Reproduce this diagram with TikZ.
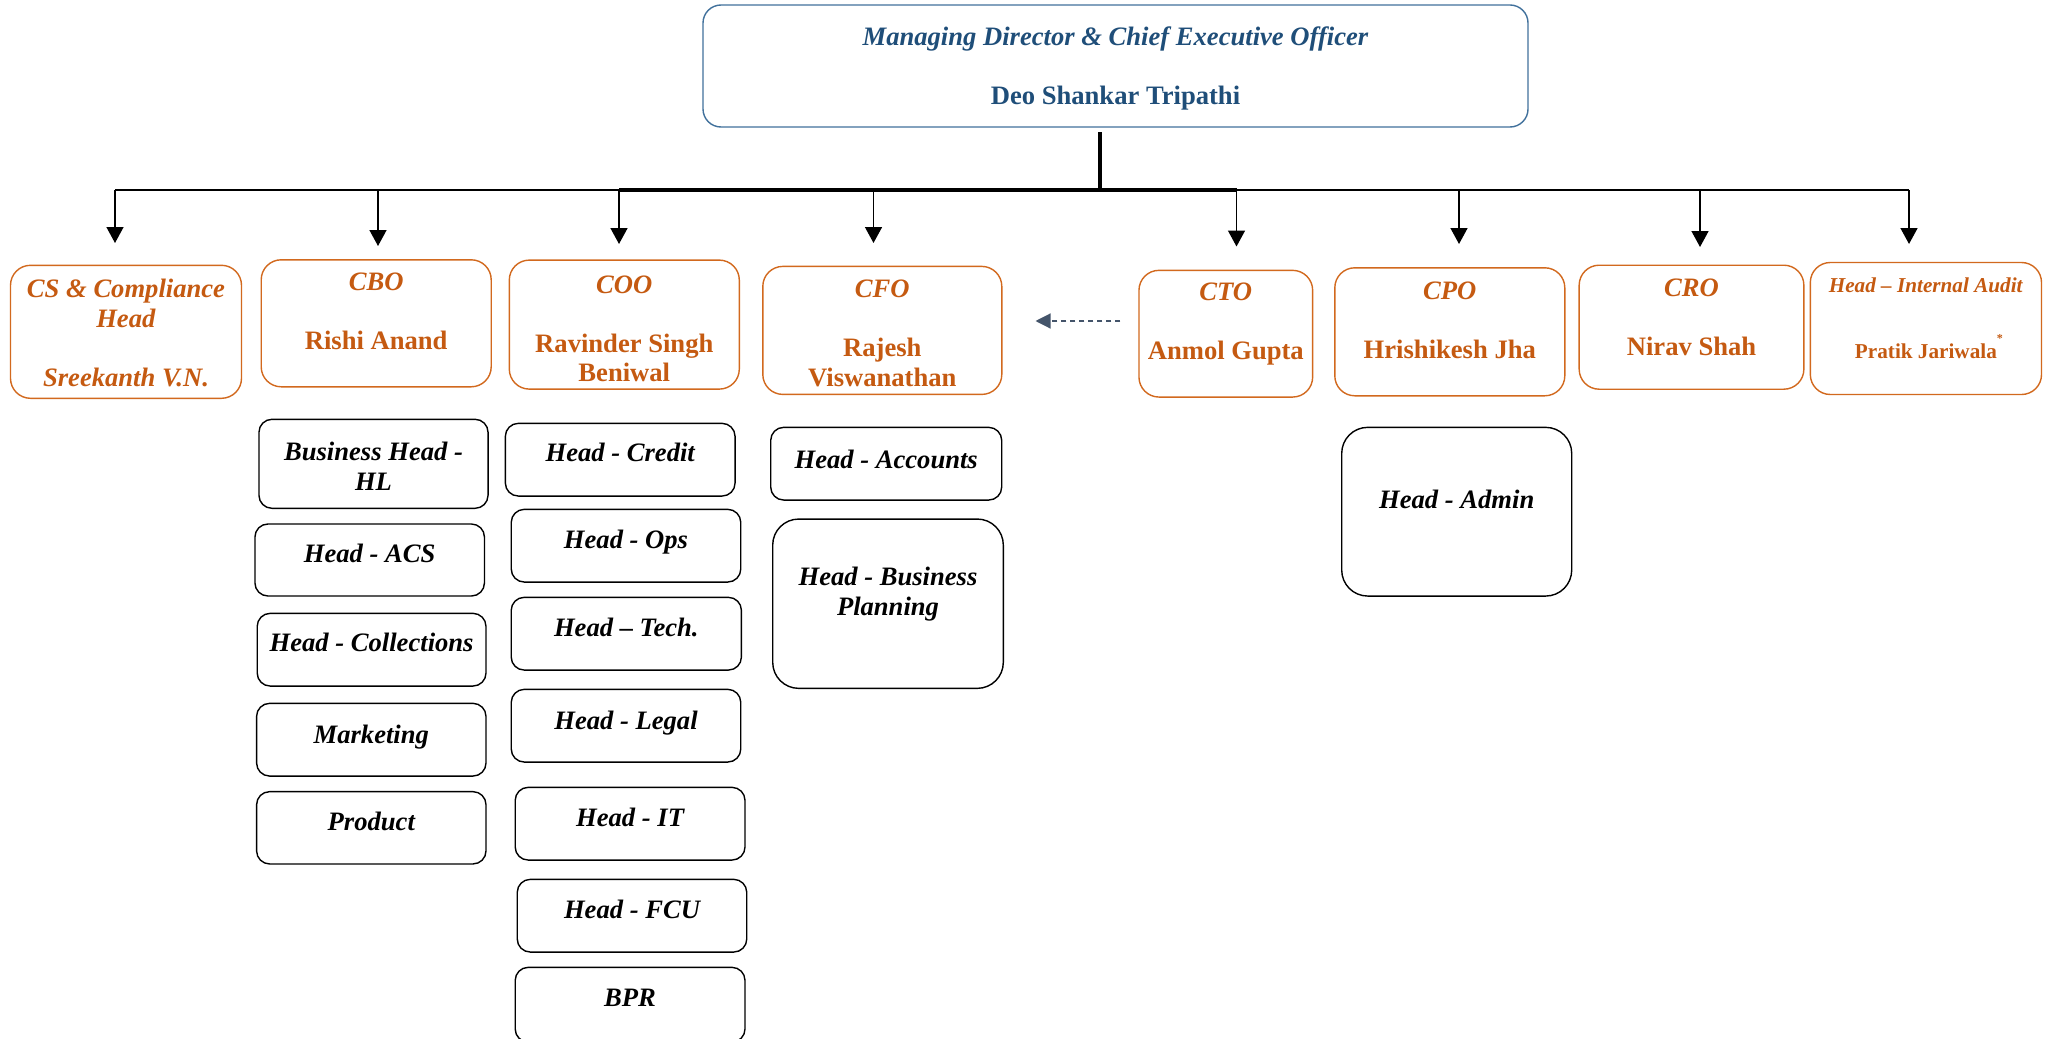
\documentclass[tikz,border=0pt]{standalone}
\usepackage{fontspec}
\setmainfont{Liberation Serif}
\usetikzlibrary{arrows.meta}
\definecolor{txtorange}{HTML}{C55A11}
\definecolor{boxorange}{HTML}{D2691E}
\definecolor{mdtext}{HTML}{1F4E79}
\definecolor{mdline}{HTML}{41719C}
\definecolor{dashcol}{HTML}{44546A}
\newlength\pxu \setlength\pxu{0.5pt}
\newcommand\bodyfont{\fontsize{13.3pt}{14.7pt}\selectfont}
\newcommand\smallbody{\fontsize{10.6pt}{12pt}\selectfont}
\newcommand\tb[2]{\raisebox{\dimexpr #1\pxu-5pt\relax}[0pt][0pt]{\begin{tabular}{@{}c@{}}#2\end{tabular}}}
\begin{document}
\begin{tikzpicture}[x=0.5pt,y=-0.5pt,
  mdbox/.style={draw=mdline, line width=0.7pt, rounded corners=9pt, inner sep=0pt, text=mdtext, font=\bodyfont\bfseries},
  orgbox/.style={draw=boxorange, line width=0.7pt, rounded corners=10pt, inner sep=0pt, text=txtorange, font=\bodyfont\bfseries},
  subbox/.style={draw=black, line width=0.7pt, rounded corners=6.5pt, inner sep=0pt, font=\bodyfont\bfseries\itshape},
  bigsub/.style={subbox, rounded corners=13pt},
  busline/.style={line width=0.75pt, black},
  stem/.style={line width=2pt, black},
  link/.style={line width=0.75pt, black, -{Triangle[length=8pt,width=8.5pt]}},
  dasharrow/.style={line width=0.6pt, dashcol, dash pattern=on 2.5pt off 2pt, -{Triangle[length=7.5pt,width=7.5pt]}}
]
\useasboundingbox (0,0) rectangle (2048,1038);
\fill[white] (0,0) rectangle (2048,1038);

% top
\node[mdbox, minimum width=412.5pt, minimum height=61pt] (md) at (1115.5,66)
  {\tb{0}{\textit{Managing Director \& Chief Executive Officer}\\ \\ Deo Shankar Tripathi}};

% second level
\node[orgbox, minimum width=115.5pt, minimum height=66.5pt] (cs) at (126,331.8)
  {\tb{-1.5}{\textit{CS \& Compliance}\\ \textit{Head}\\ \\ \textit{Sreekanth V.N.}}};
\node[orgbox, minimum width=115pt, minimum height=63.5pt] (cbo) at (376.2,323.3)
  {\tb{11.6}{\textit{CBO}\\ \\ Rishi Anand}};
\node[orgbox, minimum width=115pt, minimum height=64.5pt] (coo) at (624.3,324.6)
  {\tb{-4.6}{\textit{COO}\\ \\ Ravinder Singh\\ Beniwal}};
\node[orgbox, minimum width=119.5pt, minimum height=64pt] (cfo) at (882.3,330.4)
  {\tb{-2.9}{\textit{CFO}\\ \\ Rajesh\\ Viswanathan}};
\node[orgbox, minimum width=86.85pt, minimum height=63.35pt] (cto) at (1225.8,333.7)
  {\tb{12}{\textit{CTO}\\ \\ Anmol Gupta}};
\node[orgbox, minimum width=115pt, minimum height=64pt] (cpo) at (1449.8,331.8)
  {\tb{11.8}{\textit{CPO}\\ \\ Hrishikesh Jha}};
\node[orgbox, minimum width=112.35pt, minimum height=62pt] (cro) at (1691.5,327.2)
  {\tb{9.7}{\textit{CRO}\\ \\ Nirav Shah}};
\node[orgbox, font=\smallbody\bfseries, minimum width=115.6pt, minimum height=66pt] (aud) at (1925.9,328.5)
  {\tb{12.2}{\textit{Head -- Internal Audit}\\[17.8pt] Pratik Jariwala\rlap{\raisebox{8pt}{\fontsize{6pt}{7pt}\selectfont *}}}};

% CBO column
\node[subbox, minimum width=114.55pt, minimum height=44.5pt] (bhhl) at (373.5,463.8) {\tb{-2.9}{Business Head -\\ HL}};
\node[subbox, minimum width=114.75pt, minimum height=36pt] (acs) at (369.7,560) {\tb{6}{Head - ACS}};
\node[subbox, minimum width=114.4pt, minimum height=36.35pt] (coll) at (371.6,649.7) {\tb{6.4}{Head - Collections}};
\node[subbox, minimum width=114.7pt, minimum height=36.35pt] (mkt) at (371.3,739.7) {\tb{4.7}{Marketing}};
\node[subbox, minimum width=114.7pt, minimum height=36.15pt] (prod) at (371.3,827.8) {\tb{6.1}{Product}};

% COO column
\node[subbox, minimum width=114.85pt, minimum height=36.35pt] (credit) at (620.2,459.7) {\tb{6.4}{Head - Credit}};
\node[subbox, minimum width=114.75pt, minimum height=36.35pt] (ops) at (626,545.7) {\tb{5.7}{Head - Ops}};
\node[subbox, minimum width=115.1pt, minimum height=36.35pt] (tech) at (626.3,633.7) {\tb{6}{Head -- Tech.}};
\node[subbox, minimum width=114.75pt, minimum height=36.35pt] (legal) at (626,725.7) {\tb{5}{Head - Legal}};
\node[subbox, minimum width=114.9pt, minimum height=36.35pt] (it) at (630.1,823.7) {\tb{5.4}{Head - IT}};
\node[subbox, minimum width=114.75pt, minimum height=36.35pt] (fcu) at (632,915.7) {\tb{5.7}{Head - FCU}};
\node[subbox, minimum width=114.9pt, minimum height=37.35pt] (bpr) at (630.1,1004.7) {\tb{6.4}{BPR}};

% CFO column
\node[subbox, minimum width=115.5pt, minimum height=36.35pt] (acct) at (886.2,463.7) {\tb{3.7}{Head - Accounts}};
\node[bigsub, minimum width=115.3pt, minimum height=84.65pt] (bplan) at (888,603.7) {\tb{12}{Head - Business\\ Planning}};

% CPO column
\node[bigsub, minimum width=115pt, minimum height=84.35pt] (admin) at (1456.7,511.7) {\tb{11.7}{Head - Admin}};

% connectors
\coordinate (stemtop) at (1100,132);
\coordinate (bus) at (1100,190);
\coordinate (tipCS) at (115,243);
\coordinate (tipCBO) at (378,246);
\coordinate (tipCOO) at (619,244);
\coordinate (tipCFO) at (873.5,243);
\coordinate (tipCTO) at (1236.5,246.5);
\coordinate (tipCPO) at (1459,244);
\coordinate (tipCRO) at (1700,247);
\coordinate (tipAud) at (1909,244);

\draw[busline] (tipCS |- bus) -- (tipAud |- bus);
\draw[busline, line width=1pt] (tipCBO |- bus) -- (tipCPO |- bus);
\draw[busline, line width=2pt] (tipCOO |- bus) -- (tipCTO |- bus);
\draw[stem] (stemtop) -- (bus);
\foreach \t in {tipCS,tipCBO,tipCOO,tipCFO,tipCTO,tipCPO,tipCRO,tipAud}
  \draw[link] (\t |- bus) -- (\t);

\coordinate (dashy) at (0,321);
\draw[dasharrow, shorten <=9pt, shorten >=16.5pt] (cto.west |- dashy) -- (cfo.east |- dashy);
\end{tikzpicture}
\end{document}
